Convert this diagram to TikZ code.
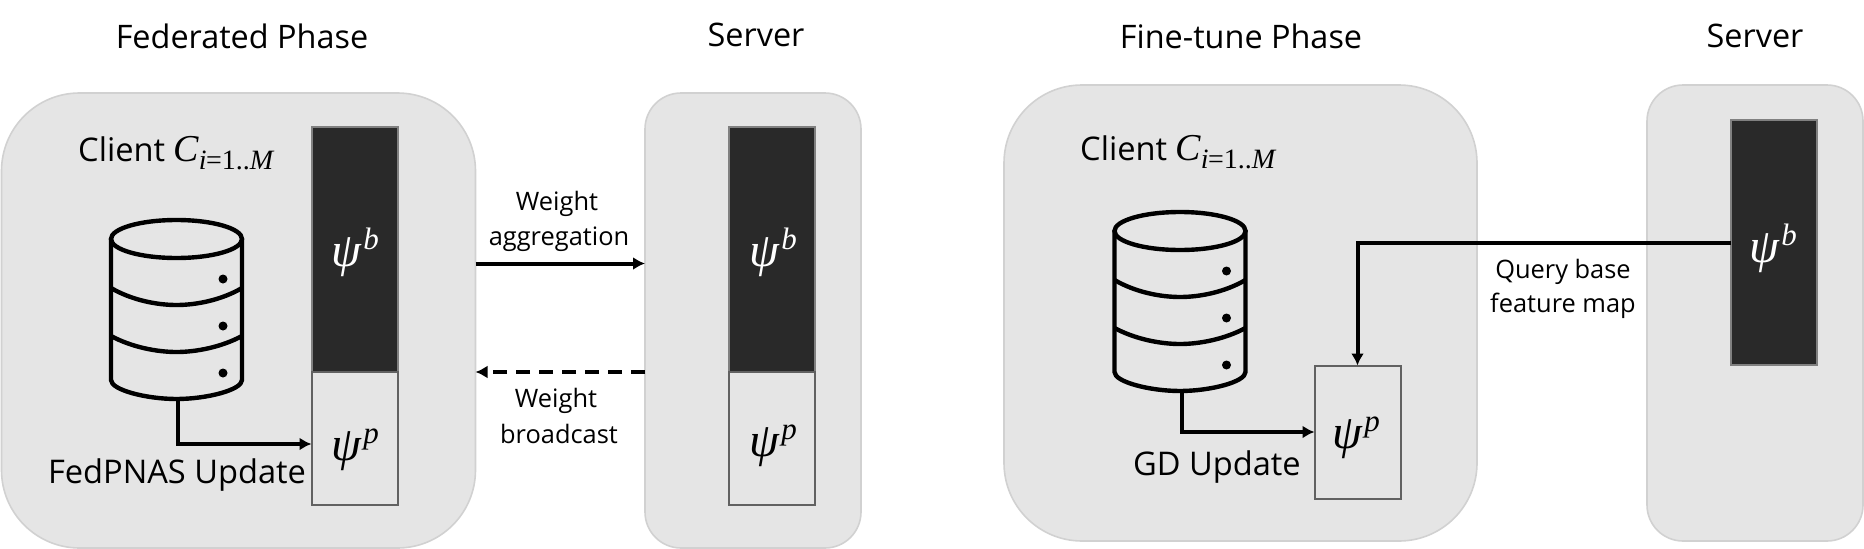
\documentclass[tikz,border=0pt]{standalone}
\usepackage{fontspec}
\setmainfont{Open Sans}
\newfontfamily\mth{Liberation Serif}[ItalicFont={Liberation Serif Italic}]
\usetikzlibrary{arrows.meta}
\tikzset{
  x=1pt,y=-1pt,
  panel/.style={draw=black!18,line width=1.6pt,fill=black!10,inner sep=0pt,outer sep=0pt,rounded corners=#1},
  barbase/.style={draw=black!50,line width=2pt,fill=black!84,inner sep=0pt,outer sep=0pt},
  barperson/.style={draw=black!62,line width=2pt,fill=black!10,inner sep=0pt,outer sep=0pt},
  conn/.style={line width=4pt,draw=black,-{Latex[length=12pt,width=13pt]}},
  dbline/.style={line width=4.4pt,draw=black},
  title/.style={inner sep=0pt,font=\fontsize{32.4}{36}\selectfont},
  lab/.style={inner sep=0pt,font=\fontsize{32.6}{36}\selectfont},
  small/.style={inner sep=0pt,font=\fontsize{25.4}{28}\selectfont},
  psi/.style={inner sep=0pt,font=\fontsize{48}{52}\selectfont},
}
\newcommand{\psiof}[1]{{\mth\itshape ψ\kern2.5pt\raisebox{0.36em}{\fontsize{31}{34}\selectfont #1}}}
\newcommand{\cname}{{\mth\itshape\fontsize{38}{40}\selectfont C\raisebox{-0.2em}{\fontsize{28}{30}\selectfont i\kern-0.5pt{\upshape =1..}M}}}
\newcommand{\dbicon}[1]{%
  \begin{scope}[shift={(#1)}]
    \draw[dbline] (0,-71) circle[x radius=65.5,y radius=19];
    \draw[dbline,line cap=round] (-65.5,-71) -- (-65.5,70) .. controls (-65.5,80) and (-30,89) .. (0,89) .. controls (30,89) and (65.5,80) .. (65.5,70) -- (65.5,-71);
    \draw[dbline] (-65.5,-22) .. controls (-45,-10) and (-20,-5) .. (0,-5) .. controls (20,-5) and (45,-10) .. (65.5,-22);
    \draw[dbline] (-65.5,26) .. controls (-45,37) and (-20,42) .. (0,42) .. controls (20,42) and (45,37) .. (65.5,26);
    \fill (46.5,-31) circle[radius=4.5];
    \fill (46.5,16) circle[radius=4.5];
    \fill (46.5,63) circle[radius=4.5];
  \end{scope}}
\begin{document}
\begin{tikzpicture}
\useasboundingbox (0,0) rectangle (1864,549);
% panels
\node[panel=78pt,minimum width=474pt,minimum height=455pt] (c1) at (238.5,320.5) {};
\node[panel=36pt,minimum width=216pt,minimum height=455pt] (s1) at (753,320.5) {};
\node[panel=78pt,minimum width=473pt,minimum height=456pt] (c2) at (1240.5,313) {};
\node[panel=36pt,minimum width=216pt,minimum height=456pt] (s2) at (1755,313) {};
% bars
\node[barbase,minimum width=86pt,minimum height=245pt] (bb1) at (354.5,249.5) {};
\node[barperson,minimum width=86pt,minimum height=133pt] (bp1) at (354.5,438.5) {};
\node[barbase,minimum width=86pt,minimum height=245pt] (sb1) at (771.5,249.5) {};
\node[barperson,minimum width=86pt,minimum height=133pt] (sp1) at (771.5,438.5) {};
\node[barperson,minimum width=86pt,minimum height=133pt] (bp2) at (1357.5,432) {};
\node[barbase,minimum width=86pt,minimum height=245pt] (sb2) at (1774,242.5) {};
% psi labels
\node[psi,text=white] (t1) at (355,252) {\psiof{b}};
\node[psi] (t2) at (355,450) {\psiof{p}};
\node[psi,text=white] (t3) at (773,252) {\psiof{b}};
\node[psi] (t4) at (773,446) {\psiof{p}};
\node[psi] (t5) at (1356,438) {\psiof{p}};
\node[psi,text=white] (t6) at (1773,248) {\psiof{b}};
% databases
\node[minimum width=133pt,minimum height=179pt,inner sep=0pt] (db1) at (176.5,310) {};
\node[minimum width=133pt,minimum height=179pt,inner sep=0pt] (db2) at (1180,302) {};
\dbicon{db1.center}
\dbicon{db2.center}
% titles
\node[title] (h1) at (242,36) {Federated Phase};
\node[title] (h2) at (756,35) {Server};
\node[title] (h3) at (1241,36) {Fine-tune Phase};
\node[title] (h4) at (1755,36) {Server};
% labels
\node[lab,anchor=west] (n1) at (78,153) {Client \cname};
\node[lab,anchor=west] (n2) at (1080,152) {Client \cname};
\node[lab] (n3) at (177,475) {FedPNAS Update};
\node[lab] (n4) at (1217,467) {GD Update};
\node[small] (w1) at (557,204) {Weight};
\node[small] (w2) at (559,239) {aggregation};
\node[small] (w3) at (556,401) {Weight};
\node[small] (w4) at (559,434) {broadcast};
\node[small] (q1) at (1563,272) {Query base};
\node[small] (q2) at (1563,306) {feature map};
% connectors
\draw[conn] ([yshift=57pt]c1.east) -- ([yshift=57pt]s1.west);
\draw[conn,dash pattern=on 14pt off 9pt] (s1.west |- bb1.south) -- (c1.east |- bb1.south);
\draw[conn] ([yshift=-89pt,xshift=1.5pt]db1.center) |- ([yshift=-5.5pt]bp1.west);
\draw[conn] ([yshift=-89pt,xshift=1.5pt]db2.center) |- (bp2.west);
\draw[conn] (sb2.west) -| (bp2.north);
\end{tikzpicture}
\end{document}
